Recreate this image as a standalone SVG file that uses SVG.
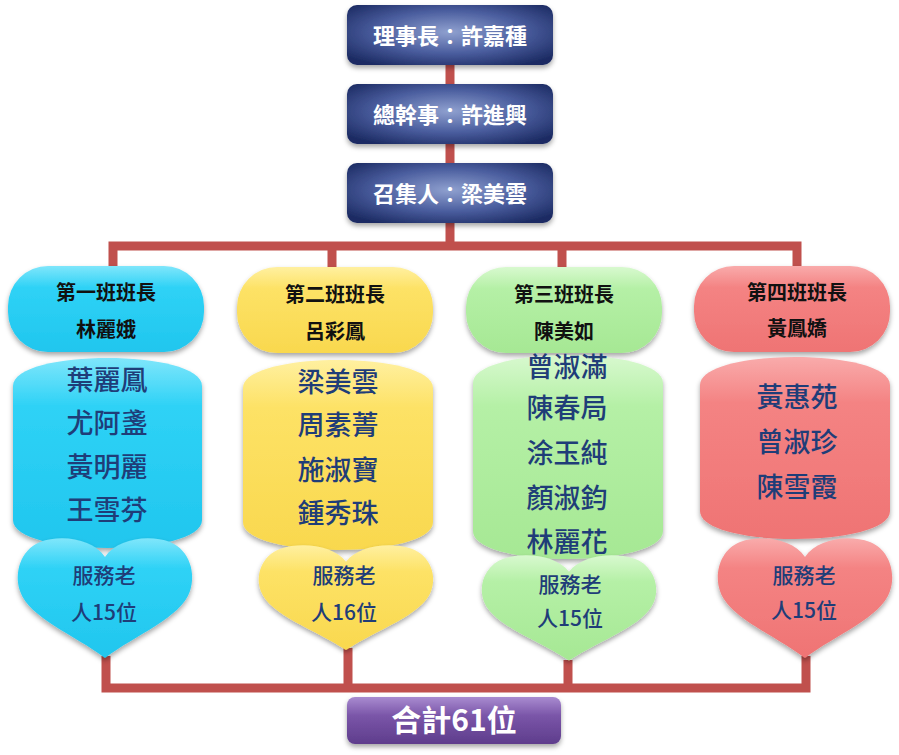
<svg xmlns="http://www.w3.org/2000/svg" width="899" height="755" viewBox="0 0 899 755">
<style>
text{font-family:"Noto Sans CJK TC","Noto Sans CJK SC",sans-serif;text-anchor:middle}
.top{fill:#ffffff;font-size:22px;font-weight:bold}
.hd{fill:#111111;font-size:20px;font-weight:bold}
.mem{fill:#1f3d78;font-size:27px;font-weight:500}
.ht{fill:#1f3d78;font-size:21px;font-weight:500}
.tot{fill:#ffffff;font-size:30px;font-weight:bold}
.conn{fill:none;stroke:#c0504d;stroke-width:9;stroke-linejoin:miter}
.sh{filter:url(#shadow)}
</style>
<defs>
<filter id="shadow" x="-10%" y="-10%" width="120%" height="130%">
<feDropShadow dx="0" dy="3" stdDeviation="2.5" flood-color="#000" flood-opacity="0.35"/>
</filter>
<radialGradient id="gNavy" cx="50%" cy="45%" r="65%">
<stop offset="0" stop-color="#8fa0cf"/>
<stop offset="0.55" stop-color="#4a5d9e"/>
<stop offset="1" stop-color="#1c2b63"/>
</radialGradient>
<linearGradient id="gCyan" x1="0" y1="0" x2="0" y2="1">
<stop offset="0" stop-color="#7fe6fb"/>
<stop offset="0.25" stop-color="#2fd2f6"/>
<stop offset="1" stop-color="#20c6ee"/>
</linearGradient>
<linearGradient id="gYel" x1="0" y1="0" x2="0" y2="1">
<stop offset="0" stop-color="#fff0a0"/>
<stop offset="0.25" stop-color="#fde266"/>
<stop offset="1" stop-color="#f9d84e"/>
</linearGradient>
<linearGradient id="gGrn" x1="0" y1="0" x2="0" y2="1">
<stop offset="0" stop-color="#d8f9cf"/>
<stop offset="0.25" stop-color="#b5f0a6"/>
<stop offset="1" stop-color="#a6e894"/>
</linearGradient>
<linearGradient id="gPnk" x1="0" y1="0" x2="0" y2="1">
<stop offset="0" stop-color="#f9abab"/>
<stop offset="0.25" stop-color="#f48383"/>
<stop offset="1" stop-color="#ef7474"/>
</linearGradient>
<linearGradient id="gPur" x1="0" y1="0" x2="0" y2="1">
<stop offset="0" stop-color="#a98bd0"/>
<stop offset="0.4" stop-color="#7a55a8"/>
<stop offset="1" stop-color="#5e3d8c"/>
</linearGradient>
<path id="heart" d="M88,19 C76,1 45,-4 23,4 C3,12 -3,36 3,53 C12,80 58,97 88,120 C118,97 164,80 173,53 C179,36 173,12 153,4 C131,-4 100,1 88,19 Z"/>
</defs>
<rect width="899" height="755" fill="#ffffff"/>

<g id="connectors">
<path class="conn" d="M450,64 V86 M450,143 V165 M450,222 V246"/>
<path class="conn" d="M113,268 V246 H797 V268 M332,246 V268 M562,246 V268"/>
<path class="conn" d="M106,656 V688 H806 V656 M348,648 V688 M568,660 V688"/>
</g>

<g id="chair">
<rect class="sh" x="347" y="5" width="206" height="60" rx="10" fill="url(#gNavy)"/>
<text class="top" x="450" y="44">理事長：許嘉種</text>
</g>
<g id="secretary">
<rect class="sh" x="347" y="84" width="206" height="60" rx="10" fill="url(#gNavy)"/>
<text class="top" x="450" y="123">總幹事：許進興</text>
</g>
<g id="convener">
<rect class="sh" x="347" y="163" width="206" height="60" rx="10" fill="url(#gNavy)"/>
<text class="top" x="450" y="202">召集人：梁美雲</text>
</g>

<g id="class1">
<rect class="sh" x="8" y="266" width="196" height="86" rx="40" fill="url(#gCyan)"/>
<text class="hd" x="106" y="300">第一班班長</text>
<text class="hd" x="106" y="337">林麗娥</text>
</g>
<g id="members1">
<path class="sh" fill="url(#gCyan)" d="M13,386 C13,348.7 202,348.7 202,386 L202,520 C202,557.3 13,557.3 13,520 Z"/>
<text class="mem" x="107" y="390">葉麗鳳</text>
<text class="mem" x="107" y="433">尤阿盞</text>
<text class="mem" x="107" y="477">黃明麗</text>
<text class="mem" x="107" y="520">王雪芬</text>
</g>
<g id="heart1">
<use class="sh" href="#heart" fill="url(#gCyan)" transform="translate(17,538)"/>
<text class="ht" x="104" y="583">服務老</text>
<text class="ht" x="104" y="620">人15位</text>
</g>

<g id="class2">
<rect class="sh" x="237" y="267" width="196" height="86" rx="40" fill="url(#gYel)"/>
<text class="hd" x="335" y="302">第二班班長</text>
<text class="hd" x="335" y="339">呂彩鳳</text>
</g>
<g id="members2">
<path class="sh" fill="url(#gYel)" d="M243,388 C243,350.7 433,350.7 433,388 L433,522 C433,559.3 243,559.3 243,522 Z"/>
<text class="mem" x="338" y="392">梁美雲</text>
<text class="mem" x="338" y="435">周素菁</text>
<text class="mem" x="338" y="480">施淑寶</text>
<text class="mem" x="338" y="523">鍾秀珠</text>
</g>
<g id="heart2">
<use class="sh" href="#heart" fill="url(#gYel)" transform="translate(258,545) scale(1,0.875)"/>
<text class="ht" x="344" y="583">服務老</text>
<text class="ht" x="344" y="620">人16位</text>
</g>

<g id="class3">
<rect class="sh" x="466" y="267" width="196" height="86" rx="40" fill="url(#gGrn)"/>
<text class="hd" x="564" y="302">第三班班長</text>
<text class="hd" x="564" y="339">陳美如</text>
</g>
<g id="members3">
<path class="sh" fill="url(#gGrn)" d="M473,383 C473,345.7 663,345.7 663,383 L663,531 C663,568.3 473,568.3 473,531 Z"/>
<text class="mem" x="567" y="377">曾淑滿</text>
<text class="mem" x="567" y="418">陳春局</text>
<text class="mem" x="567" y="463">涂玉純</text>
<text class="mem" x="567" y="508">顏淑鈞</text>
<text class="mem" x="567" y="552">林麗花</text>
</g>
<g id="heart3">
<use class="sh" href="#heart" fill="url(#gGrn)" transform="translate(481,555) scale(1,0.88)"/>
<text class="ht" x="570" y="592">服務老</text>
<text class="ht" x="570" y="626">人15位</text>
</g>

<g id="class4">
<rect class="sh" x="694" y="266" width="196" height="86" rx="40" fill="url(#gPnk)"/>
<text class="hd" x="797" y="300">第四班班長</text>
<text class="hd" x="797" y="336">黃鳳嬌</text>
</g>
<g id="members4">
<path class="sh" fill="url(#gPnk)" d="M700,385 C700,347.7 890,347.7 890,385 L890,511 C890,548.3 700,548.3 700,511 Z"/>
<text class="mem" x="797" y="407">黃惠苑</text>
<text class="mem" x="797" y="452">曾淑珍</text>
<text class="mem" x="797" y="497">陳雪霞</text>
</g>
<g id="heart4">
<use class="sh" href="#heart" fill="url(#gPnk)" transform="translate(717,538)"/>
<text class="ht" x="804" y="583">服務老</text>
<text class="ht" x="804" y="618">人15位</text>
</g>

<g id="total">
<rect class="sh" x="347" y="697" width="214" height="47" rx="8" fill="url(#gPur)"/>
<text class="tot" x="454" y="731">合計61位</text>
</g>
</svg>
